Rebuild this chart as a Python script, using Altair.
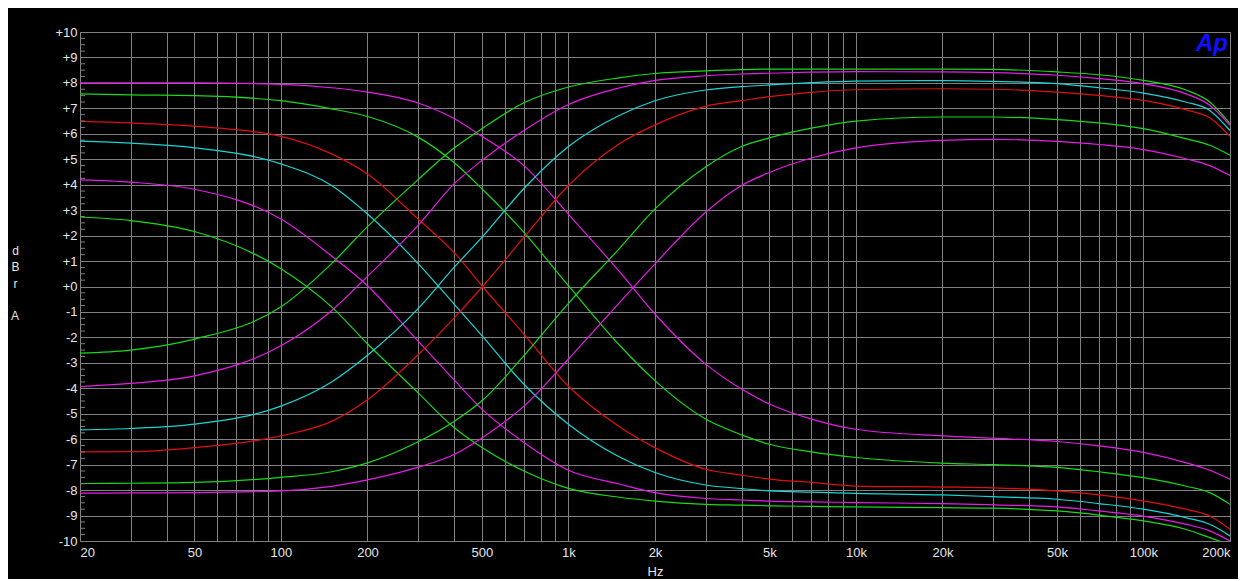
import altair as alt
import pandas as pd

# frequencies (Hz) at which each curve was read
freqs = [20, 30, 50, 100, 150, 200, 300, 400, 500, 700, 1000, 1500, 2000, 3000,
         4000, 5000, 7000, 10000, 20000, 30000, 50000, 70000, 100000, 140000, 170000, 200000]

# descending (bass-boost -> treble-cut) curves, dBr
d1 = [8.0, 8.0, 8.0, 7.94, 7.81, 7.64, 7.21, 6.6, 5.9, 4.75, 2.84, 0.6, -1.08, -3.05,
      -4.03, -4.62, -5.21, -5.61, -5.87, -5.96, -6.09, -6.26, -6.52, -6.92, -7.22, -7.57]
d2 = [7.57, 7.53, 7.5, 7.3, 6.98, 6.68, 5.87, 4.87, 3.84, 2.13, 0.03, -2.29, -3.7, -5.21,
      -5.83, -6.2, -6.5, -6.72, -6.94, -7.0, -7.11, -7.28, -7.51, -7.84, -8.1, -8.56]
d3 = [6.49, 6.43, 6.3, 5.9, 5.21, 4.42, 2.65, 1.34, 0.03, -1.87, -3.92, -5.5, -6.33, -7.18,
      -7.41, -7.57, -7.7, -7.84, -7.88, -7.91, -8.03, -8.19, -8.43, -8.75, -9.02, -9.54]
d4 = [5.71, 5.63, 5.45, 4.82, 3.97, 2.85, 0.9, -0.69, -1.93, -3.84, -5.41, -6.69, -7.31, -7.8,
      -7.94, -8.03, -8.08, -8.13, -8.19, -8.26, -8.36, -8.53, -8.75, -9.08, -9.34, -9.8]
d5 = [4.19, 4.1, 3.82, 2.65, 1.2, 0.03, -2.15, -3.67, -4.82, -6.13, -7.22, -7.76, -8.1, -8.33,
      -8.39, -8.43, -8.46, -8.49, -8.53, -8.58, -8.66, -8.82, -9.02, -9.34, -9.6, -10.0]
d6 = [2.73, 2.59, 2.16, 0.7, -0.8, -2.25, -4.18, -5.54, -6.33, -7.25, -7.93, -8.28, -8.43, -8.56,
      -8.59, -8.62, -8.64, -8.66, -8.69, -8.71, -8.82, -8.98, -9.21, -9.54, -9.87, -10.15]

# ascending (bass-cut -> treble-boost) curves, dBr
a1 = [-2.62, -2.5, -2.07, -0.8, 0.9, 2.35, 4.2, 5.44, 6.2, 7.22, 7.84, 8.2, 8.37, 8.47,
      8.52, 8.54, 8.54, 8.54, 8.54, 8.53, 8.43, 8.32, 8.1, 7.73, 7.25, 6.4]
a2 = [-3.93, -3.81, -3.51, -2.33, -0.95, 0.4, 2.4, 4.03, 4.95, 6.13, 7.15, 7.8, 8.1, 8.28,
      8.35, 8.38, 8.42, 8.44, 8.43, 8.4, 8.3, 8.17, 7.97, 7.58, 7.12, 6.33]
a3 = [-5.63, -5.58, -5.41, -4.7, -3.75, -2.7, -0.87, 0.75, 1.93, 3.85, 5.5, 6.72, 7.3, 7.72,
      7.85, 7.92, 8.01, 8.07, 8.09, 8.06, 7.97, 7.81, 7.6, 7.25, 6.92, 6.13]
a4 = [-6.5, -6.49, -6.33, -5.87, -5.3, -4.45, -2.68, -1.24, -0.03, 1.93, 3.97, 5.6, 6.35, 7.08,
      7.3, 7.46, 7.63, 7.73, 7.77, 7.75, 7.64, 7.51, 7.31, 6.95, 6.63, 5.9]
a5 = [-7.74, -7.73, -7.7, -7.5, -7.28, -6.93, -6.1, -5.3, -4.49, -2.72, -0.66, 1.48, 3.05, 4.7,
      5.5, 5.84, 6.22, 6.5, 6.66, 6.66, 6.56, 6.43, 6.2, 5.81, 5.55, 5.16]
a6 = [-8.12, -8.11, -8.1, -8.03, -7.85, -7.6, -7.1, -6.6, -5.95, -4.7, -2.85, -0.65, 0.89, 2.92,
      3.97, 4.48, 5.05, 5.45, 5.74, 5.78, 5.7, 5.58, 5.38, 5.02, 4.75, 4.36]

curve_names = ["d1", "d2", "d3", "d4", "d5", "d6", "a1", "a2", "a3", "a4", "a5", "a6"]
curve_values = [d1, d2, d3, d4, d5, d6, a1, a2, a3, a4, a5, a6]
curve_colors = ["#E81CE8", "#19D919", "#E01010", "#19D6D6", "#E81CE8", "#19D919",
                "#19D919", "#E81CE8", "#19D6D6", "#E01010", "#19D919", "#E81CE8"]

# axis tick / grid values and labels
x_grid = [m * 10 ** e for e in range(1, 5) for m in range(2 if e == 1 else 1, 10)] + [100000, 200000]
x_labels = [20, 50, 100, 200, 500, 1000, 2000, 5000, 10000, 20000, 50000, 100000, 200000]
y_grid = list(range(-10, 11))
y_minor = [i / 4 for i in range(-40, 41) if i % 4 != 0]
y_title = ["d", "B", "r"]
y_title_suffix = "A"

rows = []
for name, vals in zip(curve_names, curve_values):
    for f, v in zip(freqs, vals):
        rows.append({"curve": name, "freq": f, "db": v})
df = pd.DataFrame(rows)
minor_df = pd.DataFrame({"db": y_minor})

label_col = "#E6E6E6"
grid_col = "#808080"
font = "Liberation Sans"

x_scale = alt.Scale(type="log", domain=[20, 200000], nice=False)
y_scale = alt.Scale(domain=[-10, 10], nice=False, zero=False)

label_list = "[" + ",".join(str(v) for v in x_labels) + "]"
x_label_expr = ("indexof(" + label_list + ", datum.value) >= 0 ? "
                "(datum.value >= 1000 ? (datum.value / 1000) + 'k' : '' + datum.value) : ''")
y_label_expr = "datum.value > 0 ? '+' + datum.value : (datum.value == 0 ? '+0' : '' + datum.value)"

y_axis = alt.Axis(values=y_grid, labelExpr=y_label_expr, labelOverlap=False, labelBound=False,
                  labelFlush=False, grid=True, gridColor=grid_col,
                  gridOpacity=1, gridWidth=1, ticks=False, domain=False,
                  labelColor=label_col, labelFont=font, labelFontSize=13, labelPadding=3,
                  title=y_title, titleAngle=0, titleAlign="center",
                  titleBaseline="top", titleX=-65, titleY=213, titleLineHeight=16.5,
                  titleColor=label_col, titleFont=font, titleFontSize=12,
                  titleFontWeight="normal")

lines = alt.Chart(df).mark_line(strokeWidth=1.2, interpolate="monotone", clip=True).encode(
    x=alt.X("freq:Q", scale=x_scale,
            axis=alt.Axis(values=x_grid, labelExpr=x_label_expr, labelOverlap=False,
                          labelFlush=True, grid=True, gridColor=grid_col, gridOpacity=1,
                          gridWidth=1, ticks=False, domain=False, labelColor=label_col,
                          labelFont=font, labelFontSize=13, labelPadding=5,
                          title="Hz", titleColor=label_col, titleFont=font, titleFontSize=13,
                          titleFontWeight="normal", titleY=30, titleBaseline="middle")),
    y=alt.Y("db:Q", scale=y_scale, axis=y_axis),
    color=alt.Color("curve:N", scale=alt.Scale(domain=curve_names, range=curve_colors), legend=None),
    order=alt.Order("freq:Q"),
)

minor = alt.Chart(minor_df).mark_rule(color=grid_col, strokeWidth=1).encode(
    y=alt.Y("db:Q", scale=y_scale, axis=y_axis),
    x=alt.value(0),
    x2=alt.value(5),
)

unit_a = alt.Chart(pd.DataFrame({"t": [y_title_suffix]})).mark_text(
    color=label_col, font=font, fontSize=12, align="center", baseline="top"
).encode(text="t:N", x=alt.value(-65), y=alt.value(279))

logo = alt.Chart(pd.DataFrame({"t": ["Ap"]})).mark_text(
    color="#1010FF", font=font, fontSize=24, fontWeight="bold", fontStyle="italic",
    align="right", baseline="top"
).encode(text="t:N", x=alt.value(1148), y=alt.value(0))

chart = alt.layer(lines, minor, unit_a, logo).properties(
    width=1150, height=509,
    background="black",
    padding={"left": 72, "top": 24, "right": 8, "bottom": 38},
    autosize=alt.AutoSizeParams(type="none"),
).configure_view(stroke=grid_col, strokeWidth=1)

chart.save("out.html", embed_options={"renderer": "svg", "actions": False})
